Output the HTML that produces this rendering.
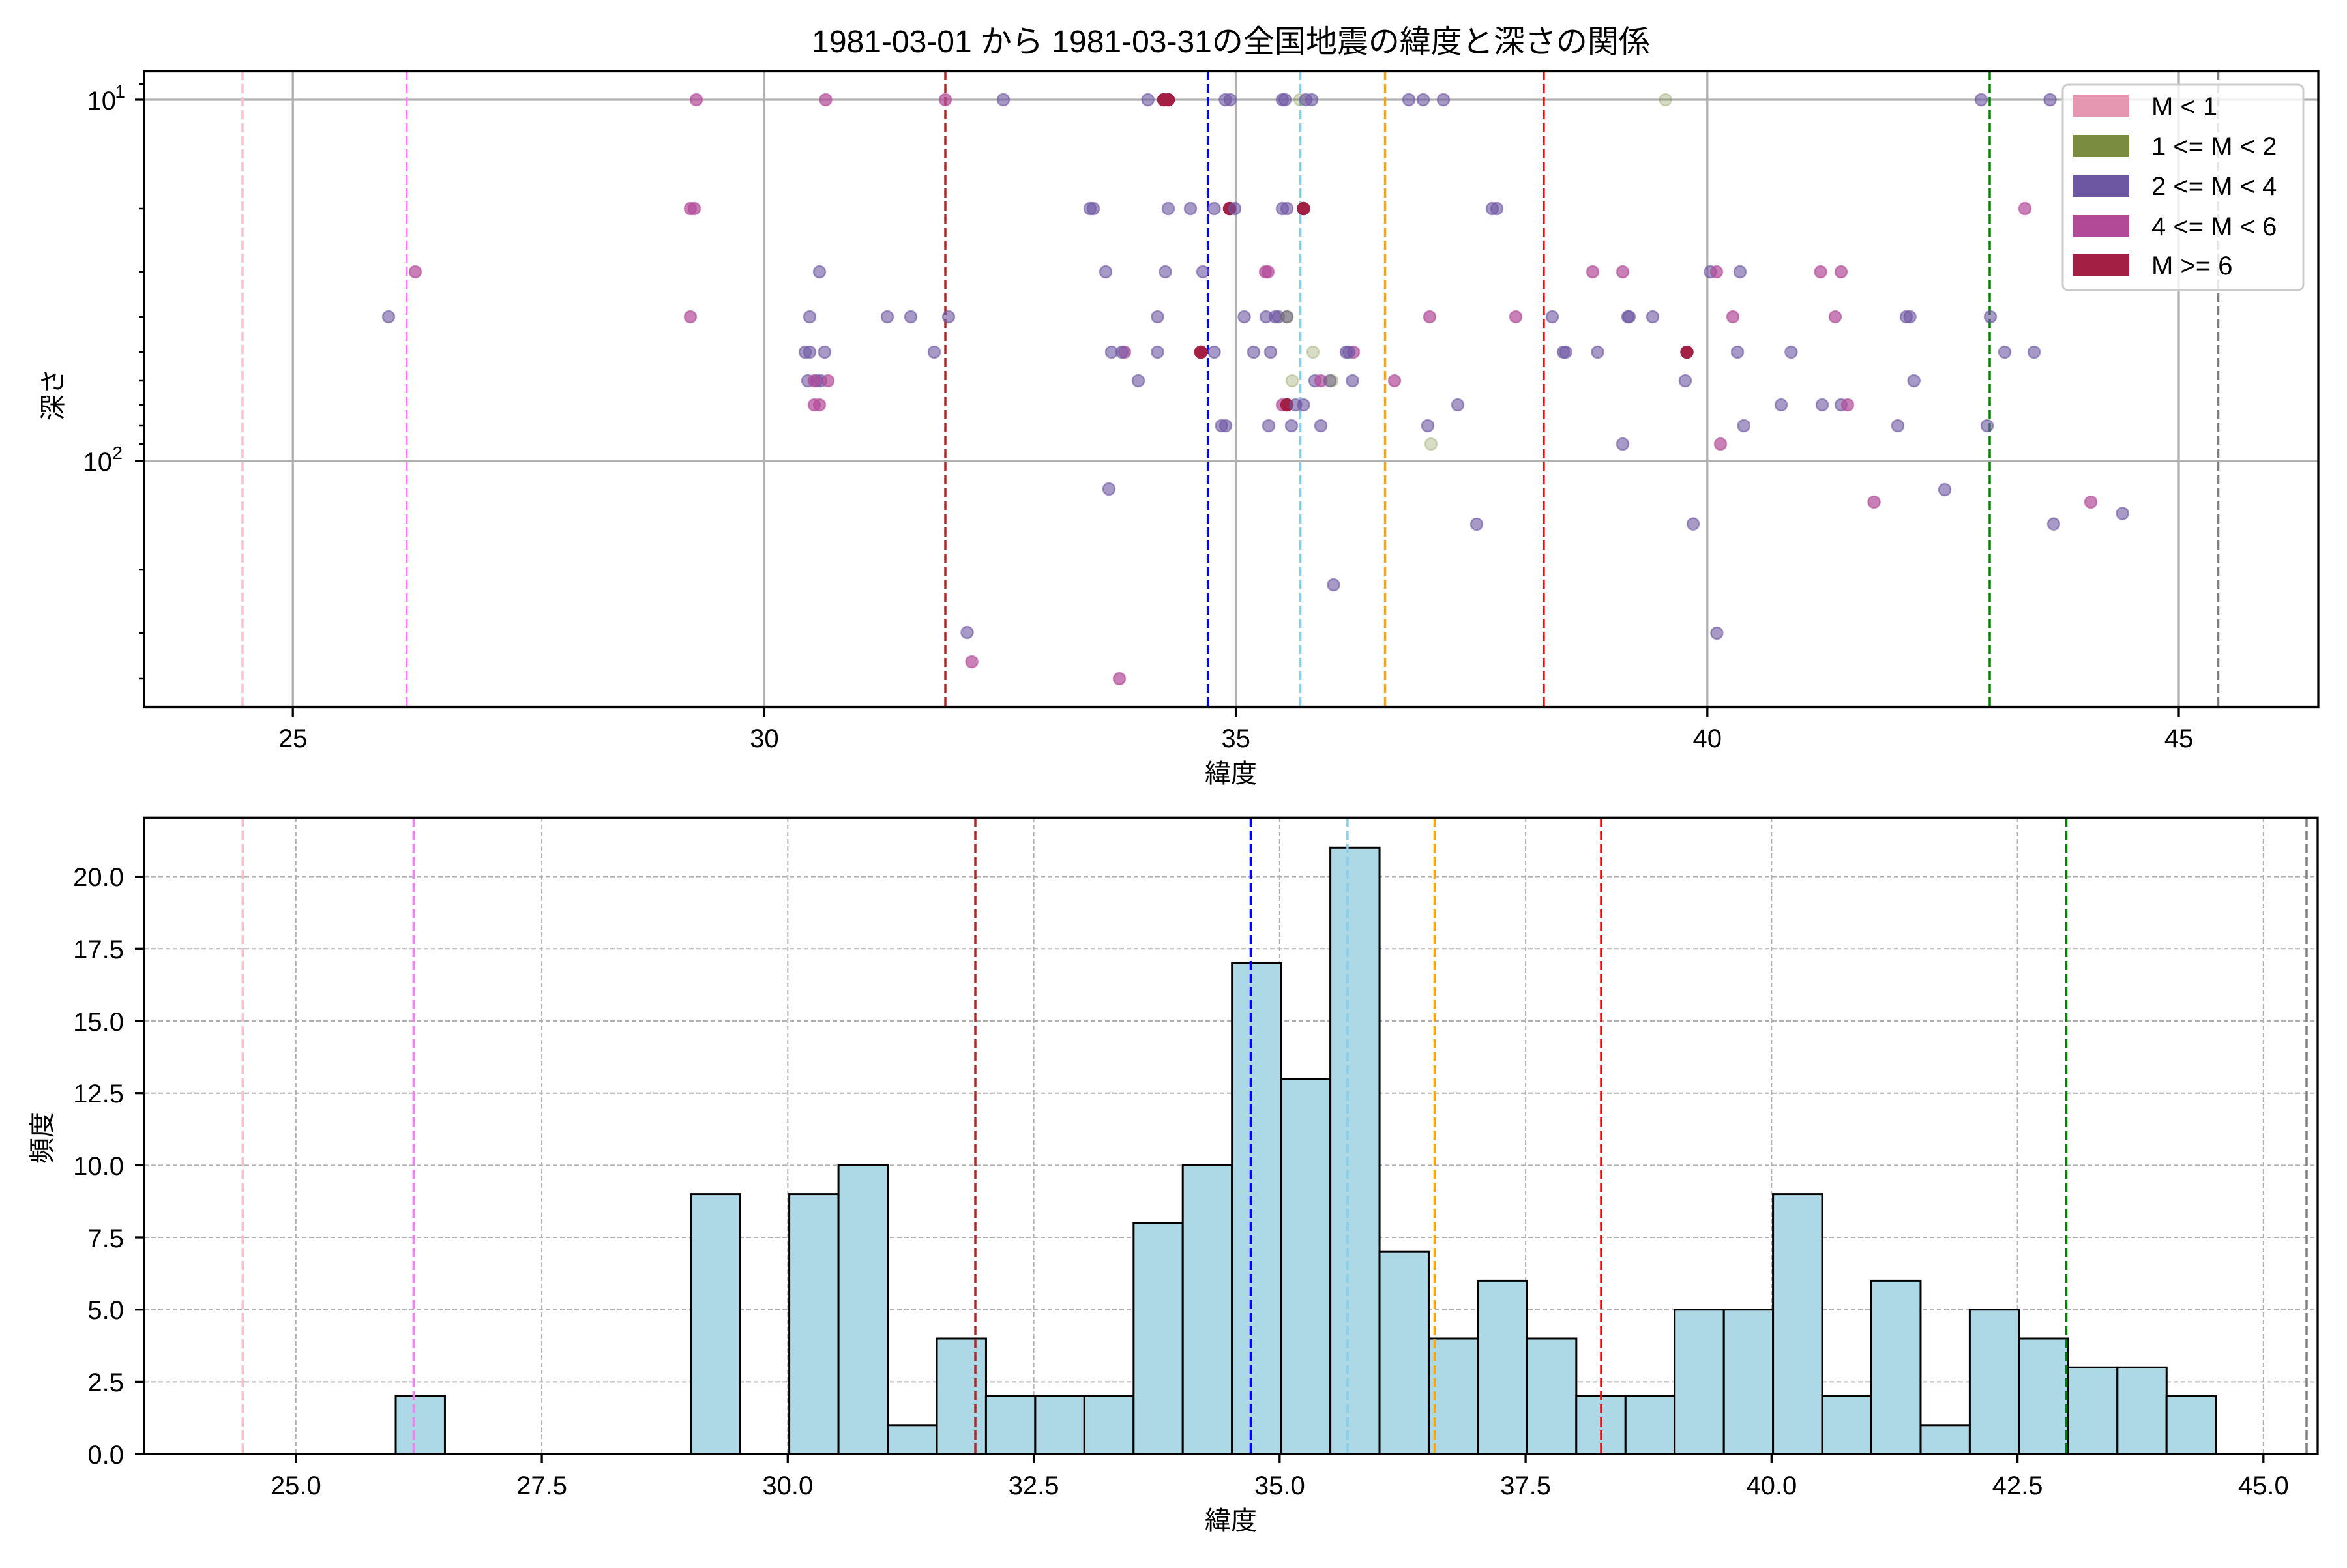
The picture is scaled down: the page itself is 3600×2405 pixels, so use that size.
<!DOCTYPE html>
<html><head><meta charset="utf-8"><style>
html,body{margin:0;padding:0;background:#fff}
svg text{font-family:"Liberation Sans","Noto Sans CJK JP",sans-serif;fill:#000}
.p{fill:#6e57a2;fill-opacity:.6;stroke:#6e57a2;stroke-opacity:.6;stroke-width:2.5}
.m{fill:#b24a98;fill-opacity:.7;stroke:#b24a98;stroke-opacity:.6;stroke-width:2.5}
.d{fill:#a31f44;fill-opacity:1;stroke:#a31f44;stroke-width:2.5}
.o{fill:#7a8c40;fill-opacity:.3;stroke:#7a8c40;stroke-opacity:.3;stroke-width:2.5}
.b{fill:#add8e6;stroke:#000;stroke-width:3}
</style></head><body>
<svg width="3600" height="2400" viewBox="0 0 3600 2400" xmlns="http://www.w3.org/2000/svg">
<rect width="3600" height="2400" fill="#fff"/>
<text x="1888" y="80" font-size="48" text-anchor="middle">1981-03-01 から 1981-03-31の全国地震の緯度と深さの関係</text>

<!-- TOP AXES -->
<g stroke="#b0b0b0" stroke-width="3.3">
<line x1="449.2" y1="109" x2="449.2" y2="1085"/><line x1="1172.4" y1="109" x2="1172.4" y2="1085"/><line x1="1895.6" y1="109" x2="1895.6" y2="1085"/><line x1="2618.8" y1="109" x2="2618.8" y2="1085"/><line x1="3342" y1="109" x2="3342" y2="1085"/>
<line x1="221" y1="153" x2="3556" y2="153"/><line x1="221" y1="707" x2="3556" y2="707"/>
</g>
<g stroke-width="3.5" stroke-dasharray="14 6">
<line x1="372" y1="109" x2="372" y2="1085" stroke="pink"/>
<line x1="623.7" y1="109" x2="623.7" y2="1085" stroke="violet"/>
<line x1="1450" y1="109" x2="1450" y2="1085" stroke="#a52a2a"/>
<line x1="1852.7" y1="109" x2="1852.7" y2="1085" stroke="blue"/>
<line x1="1994.6" y1="109" x2="1994.6" y2="1085" stroke="skyblue"/>
<line x1="2124.6" y1="109" x2="2124.6" y2="1085" stroke="orange"/>
<line x1="2367.9" y1="109" x2="2367.9" y2="1085" stroke="red"/>
<line x1="3052" y1="109" x2="3052" y2="1085" stroke="green"/>
<line x1="3402.5" y1="109" x2="3402.5" y2="1085" stroke="gray"/>
</g>
<g>
<circle class="p" cx="596" cy="486" r="9"/>
<circle class="m" cx="637" cy="417" r="9"/>
<circle class="m" cx="1068" cy="153" r="9"/>
<circle class="m" cx="1059" cy="320" r="9"/><circle class="m" cx="1065" cy="320" r="9"/>
<circle class="m" cx="1059" cy="486" r="9"/>
<circle class="m" cx="1266.5" cy="153" r="9"/>
<circle class="m" cx="1450" cy="153" r="9"/>
<circle class="p" cx="1539" cy="153" r="9"/>
<circle class="p" cx="1760.7" cy="153" r="9"/>
<circle class="d" cx="1785" cy="153" r="9"/><circle class="d" cx="1792" cy="153" r="9"/>
<circle class="p" cx="1672" cy="320" r="9"/><circle class="p" cx="1677" cy="320" r="9"/>
<circle class="p" cx="1792" cy="320" r="9"/>
<circle class="p" cx="1826" cy="320" r="9"/>
<circle class="p" cx="1257" cy="417" r="9"/>
<circle class="p" cx="1696" cy="417" r="9"/>
<circle class="p" cx="1787.5" cy="417" r="9"/>
<circle class="p" cx="1845" cy="417" r="9"/>
<circle class="p" cx="1242" cy="486" r="9"/>
<circle class="p" cx="1361" cy="486" r="9"/>
<circle class="p" cx="1397" cy="486" r="9"/>
<circle class="p" cx="1455" cy="486" r="9"/>
<circle class="p" cx="1775.5" cy="486" r="9"/>
<circle class="p" cx="1235" cy="540" r="9"/><circle class="p" cx="1242" cy="540" r="9"/><circle class="p" cx="1265" cy="540" r="9"/>
<circle class="p" cx="1433" cy="540" r="9"/>
<circle class="p" cx="1705" cy="540" r="9"/><circle class="m" cx="1725" cy="540" r="9"/><circle class="p" cx="1721" cy="540" r="9"/>
<circle class="p" cx="1775.5" cy="540" r="9"/>
<circle class="d" cx="1842" cy="540" r="9"/>
<circle class="p" cx="1239" cy="584" r="9"/><circle class="p" cx="1253" cy="584" r="9"/><circle class="p" cx="1259" cy="584" r="9"/>
<circle class="m" cx="1249" cy="584" r="9"/><circle class="m" cx="1270" cy="584" r="9"/>
<circle class="m" cx="1249" cy="621" r="9"/><circle class="m" cx="1257" cy="621" r="9"/>
<circle class="p" cx="1746" cy="584" r="9"/>
<circle class="p" cx="1701" cy="750" r="9"/>
<circle class="p" cx="1483.5" cy="970" r="9"/>
<circle class="m" cx="1490.6" cy="1015" r="9"/>
<circle class="m" cx="1717" cy="1041" r="9"/>
<!-- zoom5 -->
<circle class="p" cx="1879.5" cy="153" r="9"/><circle class="p" cx="1887" cy="153" r="9"/>
<circle class="p" cx="1967" cy="153" r="9"/><circle class="p" cx="1971" cy="153" r="9"/>
<circle class="o" cx="1994" cy="153" r="9"/>
<circle class="p" cx="2003" cy="153" r="9"/><circle class="p" cx="2012" cy="153" r="9"/>
<circle class="p" cx="2161" cy="153" r="9"/><circle class="p" cx="2183" cy="153" r="9"/><circle class="p" cx="2214" cy="153" r="9"/>
<circle class="p" cx="1862.5" cy="320" r="9"/>
<circle class="d" cx="1886" cy="320" r="9"/><circle class="p" cx="1894" cy="320" r="9"/>
<circle class="p" cx="1967" cy="320" r="9"/><circle class="p" cx="1974" cy="320" r="9"/>
<circle class="d" cx="1999.5" cy="320" r="9"/>
<circle class="p" cx="2289" cy="320" r="9"/><circle class="p" cx="2296" cy="320" r="9"/>
<circle class="m" cx="1941" cy="417" r="9"/><circle class="m" cx="1945" cy="417" r="9"/>
<circle class="m" cx="2443" cy="417" r="9"/><circle class="m" cx="2489" cy="417" r="9"/>
<circle class="p" cx="1908.5" cy="486" r="9"/>
<circle class="p" cx="1942" cy="486" r="9"/>
<circle class="p" cx="1956" cy="486" r="9"/><circle class="p" cx="1961" cy="486" r="9"/>
<circle class="p" cx="1974" cy="486" r="9"/><circle class="o" cx="1974" cy="486" r="9"/>
<circle class="m" cx="2193" cy="486" r="9"/>
<circle class="m" cx="2325" cy="486" r="9"/>
<circle class="p" cx="2381" cy="486" r="9"/>
<circle class="p" cx="2497" cy="486" r="9"/>
<circle class="p" cx="1862.5" cy="540" r="9"/>
<circle class="p" cx="1923" cy="540" r="9"/>
<circle class="p" cx="1949" cy="540" r="9"/>
<circle class="o" cx="2014" cy="540" r="9"/>
<circle class="m" cx="2076" cy="540" r="9"/><circle class="p" cx="2065" cy="540" r="9"/><circle class="p" cx="2069" cy="540" r="9"/>
<circle class="p" cx="2398" cy="540" r="9"/>
<circle class="p" cx="2450.5" cy="540" r="9"/>
<circle class="d" cx="1842" cy="540" r="9"/>
<circle class="o" cx="1982" cy="584" r="9"/>
<circle class="p" cx="2017" cy="584" r="9"/>
<circle class="m" cx="2026" cy="584" r="9"/>
<circle class="p" cx="2040" cy="584" r="9"/><circle class="o" cx="2043" cy="584" r="9"/>
<circle class="p" cx="2074.5" cy="584" r="9"/>
<circle class="m" cx="2139" cy="584" r="9"/>
<circle class="m" cx="1967" cy="621" r="9"/><circle class="d" cx="1974" cy="621" r="9"/>
<circle class="p" cx="1987.5" cy="621" r="9"/><circle class="p" cx="1999.5" cy="621" r="9"/>
<circle class="p" cx="2236" cy="621" r="9"/>
<circle class="p" cx="1873.7" cy="653" r="9"/><circle class="p" cx="1880" cy="653" r="9"/>
<circle class="p" cx="1946" cy="653" r="9"/>
<circle class="p" cx="1981" cy="653" r="9"/>
<circle class="p" cx="2026" cy="653" r="9"/>
<circle class="p" cx="2190" cy="653" r="9"/>
<circle class="o" cx="2195" cy="681" r="9"/>
<circle class="p" cx="2489" cy="681" r="9"/>
<circle class="p" cx="2265" cy="804" r="9"/>
<circle class="p" cx="2045.5" cy="897" r="9"/>
<!-- zoom2 -->
<circle class="o" cx="2554.6" cy="153" r="9"/>
<circle class="p" cx="3039" cy="153" r="9"/>
<circle class="p" cx="3144.6" cy="153" r="9"/>
<circle class="m" cx="3106" cy="320" r="9"/>
<circle class="p" cx="2623.5" cy="417" r="9"/><circle class="m" cx="2633" cy="417" r="9"/>
<circle class="p" cx="2669" cy="417" r="9"/>
<circle class="m" cx="2792.6" cy="417" r="9"/><circle class="m" cx="2824" cy="417" r="9"/>
<circle class="p" cx="2499" cy="486" r="9"/><circle class="p" cx="2535" cy="486" r="9"/>
<circle class="m" cx="2658" cy="486" r="9"/><circle class="m" cx="2815" cy="486" r="9"/>
<circle class="p" cx="2924" cy="486" r="9"/><circle class="p" cx="2929.6" cy="486" r="9"/>
<circle class="p" cx="3053" cy="486" r="9"/>
<circle class="p" cx="2401.5" cy="540" r="9"/>
<circle class="d" cx="2587.5" cy="540" r="9"/>
<circle class="p" cx="2665" cy="540" r="9"/>
<circle class="p" cx="2747.4" cy="540" r="9"/>
<circle class="p" cx="3075" cy="540" r="9"/>
<circle class="p" cx="3120" cy="540" r="9"/>
<circle class="p" cx="2585" cy="584" r="9"/>
<circle class="p" cx="2935.7" cy="584" r="9"/>
<circle class="p" cx="2732" cy="621" r="9"/><circle class="p" cx="2795" cy="621" r="9"/>
<circle class="p" cx="2824" cy="621" r="9"/><circle class="m" cx="2834" cy="621" r="9"/>
<circle class="p" cx="2674.7" cy="653" r="9"/><circle class="p" cx="2911" cy="653" r="9"/><circle class="p" cx="3048" cy="653" r="9"/>
<circle class="m" cx="2639" cy="681" r="9"/>
<circle class="p" cx="2983" cy="751" r="9"/>
<circle class="m" cx="2874.5" cy="770" r="9"/><circle class="m" cx="3207" cy="770" r="9"/>
<circle class="p" cx="3255.6" cy="787.5" r="9"/>
<circle class="p" cx="2597" cy="803.6" r="9"/><circle class="p" cx="3150" cy="803.6" r="9"/>
<circle class="p" cx="2633.4" cy="971" r="9"/>
</g>
<!-- legend -->
<rect x="3164" y="130" width="369" height="315" rx="8" fill="#fff" fill-opacity=".8" stroke="#ccc" stroke-width="3"/>
<rect x="3179" y="146" width="87" height="34" fill="#e597b2"/>
<rect x="3179" y="207" width="87" height="34" fill="#7a8c40"/>
<rect x="3179" y="268" width="87" height="34" fill="#6e57a2"/>
<rect x="3179" y="330" width="87" height="34" fill="#b24a98"/>
<rect x="3179" y="390" width="87" height="34" fill="#a31f44"/>
<g font-size="40">
<text x="3300" y="177">M &lt; 1</text>
<text x="3300" y="238">1 &lt;= M &lt; 2</text>
<text x="3300" y="299">2 &lt;= M &lt; 4</text>
<text x="3300" y="361">4 &lt;= M &lt; 6</text>
<text x="3300" y="421">M &gt;= 6</text>
</g>
<rect x="221" y="109.5" width="3335" height="975" fill="none" stroke="#000" stroke-width="3.3"/>
<g stroke="#000" stroke-width="3.3">
<line x1="449.2" y1="1085" x2="449.2" y2="1099"/><line x1="1172.4" y1="1085" x2="1172.4" y2="1099"/><line x1="1895.6" y1="1085" x2="1895.6" y2="1099"/><line x1="2618.8" y1="1085" x2="2618.8" y2="1099"/><line x1="3342" y1="1085" x2="3342" y2="1099"/>
<line x1="207" y1="153" x2="221" y2="153"/><line x1="207" y1="707" x2="221" y2="707"/>
</g>
<g stroke="#000" stroke-width="2.5">
<line x1="213" y1="129" x2="221" y2="129"/>
<line x1="213" y1="320" x2="221" y2="320"/><line x1="213" y1="417" x2="221" y2="417"/><line x1="213" y1="486" x2="221" y2="486"/><line x1="213" y1="540" x2="221" y2="540"/><line x1="213" y1="584" x2="221" y2="584"/><line x1="213" y1="621" x2="221" y2="621"/><line x1="213" y1="653" x2="221" y2="653"/><line x1="213" y1="681" x2="221" y2="681"/>
<line x1="213" y1="874" x2="221" y2="874"/><line x1="213" y1="971" x2="221" y2="971"/><line x1="213" y1="1041" x2="221" y2="1041"/>
</g>
<g font-size="40" text-anchor="middle">
<text x="449.2" y="1146">25</text><text x="1172.4" y="1146">30</text><text x="1895.6" y="1146">35</text><text x="2618.8" y="1146">40</text><text x="3342" y="1146">45</text>
</g>
<g font-size="40" text-anchor="end">
<text x="178" y="168">10</text><text x="192" y="150" font-size="28">1</text>
<text x="172" y="722">10</text><text x="188" y="704" font-size="28">2</text>
</g>
<text x="1888" y="1200" font-size="40" text-anchor="middle">緯度</text>
<text transform="translate(95,605) rotate(-90)" font-size="40" text-anchor="middle">深さ</text>

<!-- BOTTOM AXES -->
<g stroke="#b0b0b0" stroke-width="2" stroke-dasharray="7 4">
<line x1="453.8" y1="1254" x2="453.8" y2="2230"/><line x1="831.1" y1="1254" x2="831.1" y2="2230"/><line x1="1208.3" y1="1254" x2="1208.3" y2="2230"/><line x1="1585.6" y1="1254" x2="1585.6" y2="2230"/><line x1="1962.8" y1="1254" x2="1962.8" y2="2230"/><line x1="2340.1" y1="1254" x2="2340.1" y2="2230"/><line x1="2717.3" y1="1254" x2="2717.3" y2="2230"/><line x1="3094.6" y1="1254" x2="3094.6" y2="2230"/><line x1="3471.8" y1="1254" x2="3471.8" y2="2230"/>
<line x1="221" y1="2119.4" x2="3555" y2="2119.4"/><line x1="221" y1="2008.7" x2="3555" y2="2008.7"/><line x1="221" y1="1898" x2="3555" y2="1898"/><line x1="221" y1="1787.4" x2="3555" y2="1787.4"/><line x1="221" y1="1676.7" x2="3555" y2="1676.7"/><line x1="221" y1="1566" x2="3555" y2="1566"/><line x1="221" y1="1455.3" x2="3555" y2="1455.3"/><line x1="221" y1="1344.6" x2="3555" y2="1344.6"/>
</g>
<g>
<rect class="b" x="607" y="2141.5" width="75.45" height="88.6"/>
<rect class="b" x="1059.7" y="1831.6" width="75.45" height="398.5"/>
<rect class="b" x="1210.6" y="1831.6" width="75.45" height="398.5"/>
<rect class="b" x="1286.1" y="1787.3" width="75.45" height="442.8"/>
<rect class="b" x="1361.5" y="2185.8" width="75.45" height="44.3"/>
<rect class="b" x="1437" y="2053" width="75.45" height="177.1"/>
<rect class="b" x="1512.4" y="2141.5" width="75.45" height="88.6"/>
<rect class="b" x="1587.9" y="2141.5" width="75.45" height="88.6"/>
<rect class="b" x="1663.3" y="2141.5" width="75.45" height="88.6"/>
<rect class="b" x="1738.8" y="1875.9" width="75.45" height="354.2"/>
<rect class="b" x="1814.2" y="1787.3" width="75.45" height="442.8"/>
<rect class="b" x="1889.7" y="1477.4" width="75.45" height="752.7"/>
<rect class="b" x="1965.1" y="1654.5" width="75.45" height="575.6"/>
<rect class="b" x="2040.6" y="1300.3" width="75.45" height="929.8"/>
<rect class="b" x="2116" y="1920.2" width="75.45" height="309.9"/>
<rect class="b" x="2191.5" y="2053" width="75.45" height="177.1"/>
<rect class="b" x="2266.9" y="1964.4" width="75.45" height="265.7"/>
<rect class="b" x="2342.4" y="2053" width="75.45" height="177.1"/>
<rect class="b" x="2417.8" y="2141.5" width="75.45" height="88.6"/>
<rect class="b" x="2493.3" y="2141.5" width="75.45" height="88.6"/>
<rect class="b" x="2568.7" y="2008.7" width="75.45" height="221.4"/>
<rect class="b" x="2644.2" y="2008.7" width="75.45" height="221.4"/>
<rect class="b" x="2719.6" y="1831.6" width="75.45" height="398.5"/>
<rect class="b" x="2795.1" y="2141.5" width="75.45" height="88.6"/>
<rect class="b" x="2870.5" y="1964.4" width="75.45" height="265.7"/>
<rect class="b" x="2946" y="2185.8" width="75.45" height="44.3"/>
<rect class="b" x="3021.4" y="2008.7" width="75.45" height="221.4"/>
<rect class="b" x="3096.9" y="2053" width="75.45" height="177.1"/>
<rect class="b" x="3172.3" y="2097.3" width="75.45" height="132.8"/>
<rect class="b" x="3247.8" y="2097.3" width="75.45" height="132.8"/>
<rect class="b" x="3323.2" y="2141.5" width="75.45" height="88.6"/>
<line x1="607" y1="2230" x2="3398.6" y2="2230" stroke="#000" stroke-width="3"/>
</g>
<g stroke-width="3.5" stroke-dasharray="14 6">
<line x1="372.3" y1="1254" x2="372.3" y2="2230" stroke="pink"/>
<line x1="634.4" y1="1254" x2="634.4" y2="2230" stroke="violet"/>
<line x1="1496" y1="1254" x2="1496" y2="2230" stroke="#a52a2a"/>
<line x1="1918.5" y1="1254" x2="1918.5" y2="2230" stroke="blue"/>
<line x1="2066.9" y1="1254" x2="2066.9" y2="2230" stroke="skyblue"/>
<line x1="2200.5" y1="1254" x2="2200.5" y2="2230" stroke="orange"/>
<line x1="2456" y1="1254" x2="2456" y2="2230" stroke="red"/>
<line x1="3169.5" y1="1254" x2="3169.5" y2="2230" stroke="green"/>
<line x1="3538" y1="1254" x2="3538" y2="2230" stroke="gray"/>
</g>
<rect x="221" y="1254.3" width="3334" height="975.8" fill="none" stroke="#000" stroke-width="3.3"/>
<g stroke="#000" stroke-width="3.3">
<line x1="453.8" y1="2230" x2="453.8" y2="2244"/><line x1="831.1" y1="2230" x2="831.1" y2="2244"/><line x1="1208.3" y1="2230" x2="1208.3" y2="2244"/><line x1="1585.6" y1="2230" x2="1585.6" y2="2244"/><line x1="1962.8" y1="2230" x2="1962.8" y2="2244"/><line x1="2340.1" y1="2230" x2="2340.1" y2="2244"/><line x1="2717.3" y1="2230" x2="2717.3" y2="2244"/><line x1="3094.6" y1="2230" x2="3094.6" y2="2244"/><line x1="3471.8" y1="2230" x2="3471.8" y2="2244"/>
<line x1="207" y1="2230.1" x2="221" y2="2230.1"/><line x1="207" y1="2119.4" x2="221" y2="2119.4"/><line x1="207" y1="2008.7" x2="221" y2="2008.7"/><line x1="207" y1="1898" x2="221" y2="1898"/><line x1="207" y1="1787.4" x2="221" y2="1787.4"/><line x1="207" y1="1676.7" x2="221" y2="1676.7"/><line x1="207" y1="1566" x2="221" y2="1566"/><line x1="207" y1="1455.3" x2="221" y2="1455.3"/><line x1="207" y1="1344.6" x2="221" y2="1344.6"/>
</g>
<g font-size="40" text-anchor="middle">
<text x="453.8" y="2292">25.0</text><text x="831.1" y="2292">27.5</text><text x="1208.3" y="2292">30.0</text><text x="1585.6" y="2292">32.5</text><text x="1962.8" y="2292">35.0</text><text x="2340.1" y="2292">37.5</text><text x="2717.3" y="2292">40.0</text><text x="3094.6" y="2292">42.5</text><text x="3471.8" y="2292">45.0</text>
</g>
<g font-size="40" text-anchor="end">
<text x="190" y="2245">0.0</text><text x="190" y="2134">2.5</text><text x="190" y="2023">5.0</text><text x="190" y="1913">7.5</text><text x="190" y="1802">10.0</text><text x="190" y="1691">12.5</text><text x="190" y="1581">15.0</text><text x="190" y="1470">17.5</text><text x="190" y="1359">20.0</text>
</g>
<text x="1888" y="2346" font-size="40" text-anchor="middle">緯度</text>
<text transform="translate(78,1745) rotate(-90)" font-size="40" text-anchor="middle">頻度</text>
</svg>
</body></html>
